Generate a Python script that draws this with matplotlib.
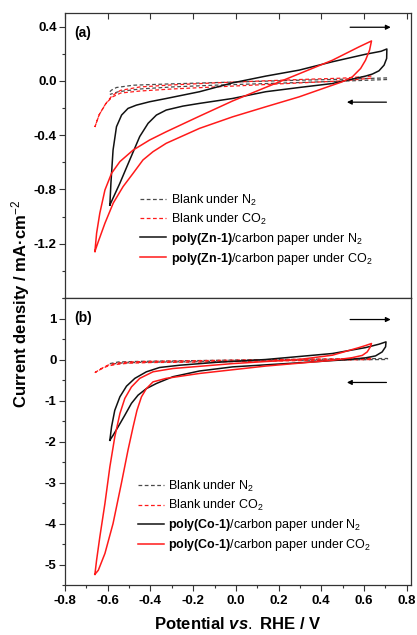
import matplotlib
matplotlib.use("Agg")
import matplotlib.pyplot as plt
from matplotlib.ticker import MultipleLocator, FixedLocator

plt.rcParams['font.family'] = ['Liberation Sans', 'DejaVu Sans']
plt.rcParams['mathtext.fontset'] = 'custom'
plt.rcParams['mathtext.rm'] = 'Liberation Sans'
plt.rcParams['mathtext.bf'] = 'Liberation Sans:bold'
plt.rcParams['mathtext.it'] = 'Liberation Sans:italic:bold'
plt.rcParams['axes.unicode_minus'] = False

# ---------------- panel (a): poly(Zn-1) ----------------
a_blank_n2_x = [-0.59, -0.582, -0.559, -0.48, -0.3, -0.1, 0.1, 0.3, 0.5, 0.71, 0.71, 0.5, 0.3, 0.1, -0.1, -0.3, -0.45, -0.55, -0.59]
a_blank_n2_y = [-0.08, -0.068, -0.049, -0.032, -0.022, -0.013, -0.004, 0.005, 0.012, 0.022, 0.01, -0.002, -0.012, -0.022, -0.032, -0.045, -0.06, -0.08, -0.10]
a_blank_co2_x = [-0.66, -0.64, -0.61, -0.58, -0.54, -0.45, -0.3, -0.1, 0.1, 0.3, 0.5, 0.635, 0.635, 0.5, 0.3, 0.1, -0.1, -0.3, -0.45, -0.54, -0.58, -0.61, -0.64, -0.66]
a_blank_co2_y = [-0.34, -0.25, -0.17, -0.11, -0.07, -0.045, -0.03, -0.015, -0.002, 0.01, 0.02, 0.035, 0.02, 0.0, -0.015, -0.03, -0.045, -0.06, -0.075, -0.09, -0.12, -0.17, -0.25, -0.34]
a_zn_n2_x = [-0.59, -0.585, -0.575, -0.559, -0.535, -0.505, -0.466, -0.404, -0.326, -0.17, -0.016, 0.14, 0.296, 0.45,
             0.607, 0.68, 0.707,
             0.706, 0.694, 0.67, 0.639, 0.607, 0.45, 0.296, 0.14, -0.016, -0.17, -0.248, -0.326, -0.372, -0.411,
             -0.45, -0.497, -0.543, -0.59]
a_zn_n2_y = [-0.915, -0.754, -0.51, -0.338, -0.252, -0.203, -0.179, -0.154, -0.13, -0.08, -0.015, 0.035, 0.079, 0.14,
             0.196, 0.218, 0.235,
             0.165, 0.116, 0.074, 0.05, 0.035, -0.02, -0.049, -0.08, -0.13, -0.166, -0.186, -0.215, -0.252, -0.313,
             -0.41, -0.583, -0.754, -0.915]
a_zn_co2_x = [-0.66, -0.652, -0.637, -0.613, -0.582, -0.543, -0.481, -0.404, -0.326, -0.17, -0.015, 0.14, 0.296,
              0.452, 0.576, 0.635,
              0.626, 0.607, 0.584, 0.545, 0.498, 0.452, 0.296, 0.14, -0.015, -0.17, -0.326, -0.388, -0.435, -0.481,
              -0.528, -0.574, -0.613, -0.644, -0.66]
a_zn_co2_y = [-1.257, -1.122, -0.975, -0.804, -0.681, -0.595, -0.51, -0.436, -0.375, -0.26, -0.148, -0.048, 0.052,
              0.152, 0.25, 0.294,
              0.226, 0.152, 0.091, 0.029, -0.007, -0.032, -0.118, -0.191, -0.265, -0.35, -0.46, -0.522, -0.583, -0.681,
              -0.779, -0.9, -1.049, -1.184, -1.257]

# ---------------- panel (b): poly(Co-1) ----------------
b_blank_n2_x = [-0.59, -0.55, -0.45, -0.3, -0.1, 0.1, 0.3, 0.5, 0.71, 0.71, 0.5, 0.3, 0.1, -0.1, -0.3, -0.45, -0.55, -0.59]
b_blank_n2_y = [-0.10, -0.06, -0.045, -0.035, -0.02, -0.005, 0.005, 0.015, 0.025, 0.0, -0.01, -0.02, -0.035, -0.05, -0.06, -0.07, -0.09, -0.12]
b_blank_co2_x = [-0.66, -0.63, -0.6, -0.56, -0.5, -0.4, -0.2, 0.0, 0.2, 0.4, 0.635, 0.635, 0.4, 0.2, 0.0, -0.2, -0.4, -0.5, -0.56, -0.6, -0.63, -0.66]
b_blank_co2_y = [-0.32, -0.22, -0.14, -0.09, -0.06, -0.045, -0.03, -0.015, 0.0, 0.01, 0.03, 0.0, -0.02, -0.035, -0.05, -0.065, -0.075, -0.09, -0.12, -0.16, -0.23, -0.32]
b_co_n2_x = [-0.59, -0.582, -0.567, -0.543, -0.512, -0.473, -0.419, -0.357, -0.264, -0.093, 0.14, 0.452, 0.607, 0.67,
             0.703,
             0.701, 0.685, 0.654, 0.607, 0.53, 0.296, -0.015, -0.17, -0.295, -0.372, -0.419, -0.458, -0.489, -0.52,
             -0.551, -0.575, -0.59]
b_co_n2_y = [-1.97, -1.64, -1.24, -0.91, -0.65, -0.46, -0.3, -0.195, -0.14, -0.07, 0.0, 0.146, 0.29, 0.373,
             0.43,
             0.31, 0.185, 0.088, 0.04, 0.0, -0.08, -0.18, -0.28, -0.42, -0.585, -0.71, -0.87, -1.07, -1.36,
             -1.64, -1.85, -1.97]
b_co_co2_x = [-0.66, -0.652, -0.637, -0.613, -0.59, -0.567, -0.543, -0.52, -0.489, -0.45, -0.388, -0.295, -0.015,
              0.296, 0.452, 0.576, 0.607, 0.635,
              0.63, 0.615, 0.592, 0.545, 0.452, 0.14, -0.17, -0.326, -0.388, -0.419, -0.442, -0.463, -0.481, -0.505,
              -0.536, -0.575, -0.613, -0.644, -0.66]
b_co_co2_y = [-5.24, -4.89, -4.33, -3.51, -2.62, -1.89, -1.32, -0.95, -0.67, -0.46, -0.3, -0.22, -0.1,
              0.0, 0.105, 0.29, 0.34, 0.39,
              0.31, 0.185, 0.1, 0.045, -0.02, -0.16, -0.34, -0.46, -0.546, -0.71, -0.91, -1.24, -1.64, -2.21,
              -3.02, -4.0, -4.73, -5.14, -5.24]

a_yticks = [-1.2, -0.8, -0.4, 0.0, 0.4]
b_yticks = [-5, -4, -3, -2, -1, 0, 1]
x_ticks = [-0.8, -0.6, -0.4, -0.2, 0.0, 0.2, 0.4, 0.6, 0.8]

labels_a = ['Blank under N$_2$', 'Blank under CO$_2$',
            r'$\mathbf{poly(Zn‐1)}$/carbon paper under N$_2$',
            r'$\mathbf{poly(Zn‐1)}$/carbon paper under CO$_2$']
labels_b = ['Blank under N$_2$', 'Blank under CO$_2$',
            r'$\mathbf{poly(Co‐1)}$/carbon paper under N$_2$',
            r'$\mathbf{poly(Co‐1)}$/carbon paper under CO$_2$']

GREY = '#4a4a4a'
RED = '#ff1a1a'
BLACK = '#111111'

fig = plt.figure(figsize=(4.17, 6.35), dpi=100)
L, R = 65 / 417, 411 / 417
ax_a = fig.add_axes([L, 1 - 298 / 635, R - L, (298 - 13) / 635])
ax_b = fig.add_axes([L, 1 - 585 / 635, R - L, (585 - 298) / 635])

lw = 1.1
dash = (3, 2)


def draw(ax, bx1, by1, bx2, by2, sx1, sy1, sx2, sy2):
    h1, = ax.plot(bx1, by1, color=GREY, lw=0.9, dashes=dash)
    h2, = ax.plot(bx2, by2, color=RED, lw=0.9, dashes=dash)
    h3, = ax.plot(sx1, sy1, color=BLACK, lw=lw, solid_joinstyle='round')
    h4, = ax.plot(sx2, sy2, color=RED, lw=lw, solid_joinstyle='round')
    return [h1, h2, h3, h4]


ha = draw(ax_a, a_blank_n2_x, a_blank_n2_y, a_blank_co2_x, a_blank_co2_y,
          a_zn_n2_x, a_zn_n2_y, a_zn_co2_x, a_zn_co2_y)
hb = draw(ax_b, b_blank_n2_x, b_blank_n2_y, b_blank_co2_x, b_blank_co2_y,
          b_co_n2_x, b_co_n2_y, b_co_co2_x, b_co_co2_y)

for ax in (ax_a, ax_b):
    ax.set_xlim(-0.8, 0.82)
    for s in ax.spines.values():
        s.set_color('#333333')
        s.set_linewidth(0.9)

ax_a.set_ylim(-1.6, 0.5)
ax_b.set_ylim(-5.5, 1.5)

ax_a.yaxis.set_major_locator(FixedLocator(a_yticks))
ax_a.yaxis.set_minor_locator(FixedLocator([-1.6, -1.4, -1.0, -0.6, -0.2, 0.2]))
ax_b.yaxis.set_major_locator(FixedLocator(b_yticks))
ax_b.yaxis.set_minor_locator(FixedLocator([-5.5, -4.5, -3.5, -2.5, -1.5, -0.5, 0.5, 1.5]))
ax_a.set_yticklabels(['%.1f' % v for v in a_yticks])
ax_b.set_yticklabels(['%d' % v for v in b_yticks])

for ax in (ax_a, ax_b):
    ax.xaxis.set_major_locator(FixedLocator(x_ticks))
    ax.xaxis.set_minor_locator(MultipleLocator(0.1))
    ax.tick_params(axis='y', which='major', direction='out', length=4, width=0.8, color='#333333',
                   labelsize=9.5, pad=2)
    ax.tick_params(axis='y', which='minor', direction='out', length=2.5, width=0.8, color='#333333')

ax_a.tick_params(axis='x', which='major', direction='in', top=True, bottom=False, labelbottom=False,
                 length=4, width=0.8, color='#333333')
ax_a.tick_params(axis='x', which='minor', top=False, bottom=False)
ax_b.tick_params(axis='x', which='major', direction='out', bottom=True, top=False, length=4, width=0.8,
                 color='#333333', labelsize=9.5, pad=3)
ax_b.tick_params(axis='x', which='minor', direction='out', bottom=True, top=False, length=2.5, width=0.8,
                 color='#333333')
ax_b.set_xticklabels(['%.1f' % v for v in x_ticks])

for ax in (ax_a, ax_b):
    for lab in ax.get_xticklabels() + ax.get_yticklabels():
        lab.set_fontweight('bold')

ax_a.text(0.027, 0.955, '(a)', transform=ax_a.transAxes, fontsize=10, fontweight='bold', va='top')
ax_b.text(0.027, 0.955, '(b)', transform=ax_b.transAxes, fontsize=10, fontweight='bold', va='top')

arrow = dict(arrowstyle='-|>', color='black', lw=0.9, mutation_scale=7, shrinkA=0, shrinkB=0)
ax_a.annotate('', xy=(0.725, 0.395), xytext=(0.535, 0.395), arrowprops=arrow)
ax_a.annotate('', xy=(0.52, -0.157), xytext=(0.705, -0.157), arrowprops=arrow)
ax_b.annotate('', xy=(0.725, 0.975), xytext=(0.535, 0.975), arrowprops=arrow)
ax_b.annotate('', xy=(0.52, -0.56), xytext=(0.705, -0.56), arrowprops=arrow)

leg_kw = dict(frameon=False, fontsize=9, handlelength=2.1, handletextpad=0.35, labelspacing=0.32,
              borderaxespad=0, borderpad=0)
ax_a.legend(ha, labels_a, loc='upper left', bbox_to_anchor=(0.217, 0.37), **leg_kw)
ax_b.legend(hb, labels_b, loc='upper left', bbox_to_anchor=(0.21, 0.37), **leg_kw)

fig.text(0.05, 0.521, 'Current density / mA·cm$^{-2}$', rotation=90, fontsize=12, fontweight='bold',
         ha='center', va='center')
fig.text(0.57, 0.018, r'Potential $\mathit{vs.}$ RHE / V', fontsize=12, fontweight='bold',
         ha='center', va='center')

fig.savefig('out.png', dpi=100)
